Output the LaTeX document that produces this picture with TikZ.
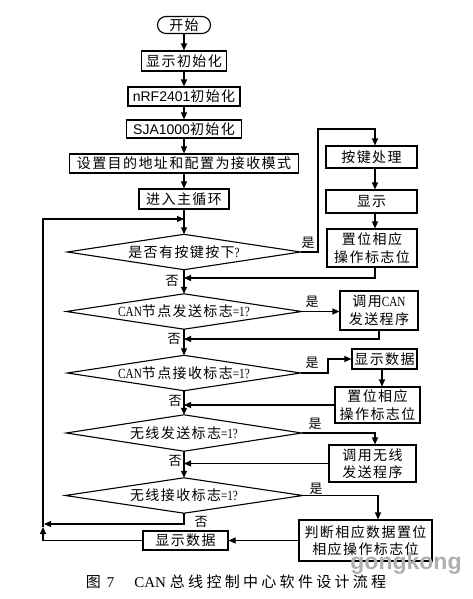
\documentclass[tikz,border=0pt]{standalone}
\usepackage{fontspec}
\setmainfont{Noto Sans CJK SC}
\newfontfamily\cjk[LetterSpace=10]{Noto Sans CJK SC}
\newfontfamily\capf[LetterSpace=22]{Noto Sans CJK SC}
\newfontfamily\ssf{Liberation Sans}
\newfontfamily\ser[FakeStretch=0.8]{Liberation Serif}
\newfontfamily\serc{Liberation Serif}
\usetikzlibrary{arrows.meta}
\definecolor{wmgray}{RGB}{175,175,175}
\newcommand\bt{\cjk\fontsize{14}{17.5}\selectfont}
\tikzset{
  box/.style={draw, line width=1.1pt, inner sep=0pt, align=center, font=\bt},
  dia/.style={inner sep=0pt, font=\bt, append after command={
      \pgfextra{\draw[line width=1.1pt, line join=miter] (\tikzlastnode.north) -- (\tikzlastnode.east) -- (\tikzlastnode.south) -- (\tikzlastnode.west) -- cycle;}}},
  arr/.style={-{Triangle[length=7pt,width=6pt]}, line width=1.1pt},
  lab/.style={inner sep=0pt, font=\cjk\fontsize{13}{13}\selectfont},
}
\begin{document}
\begin{tikzpicture}[x=1pt,y=-1pt]
\fill[white] (0,0) rectangle (473,599);
\path[use as bounding box] (0,0) rectangle (473,599);
% main column
\node[box, rounded corners=8.5pt, minimum width=53pt, minimum height=17pt] (start) at (184,25) {开始};
\node[box, minimum width=85pt, minimum height=20pt] (b1) at (184,61) {显示初始化};
\node[box, minimum width=112pt, minimum height=19pt] (b2) at (184,96.5) {{\ssf nRF2401}初始化};
\node[box, minimum width=115pt, minimum height=18pt] (b3) at (184,129) {{\ssf SJA1000}初始化};
\node[box, minimum width=229pt, minimum height=19pt] (b4) at (184,163.5) {设置目的地址和配置为接收模式};
\node[box, minimum width=90pt, minimum height=20pt] (b5) at (184,199) {进入主循环};
\node[dia, minimum width=233pt, minimum height=35pt] (d1) at (184,252) {是否有按键按下{\ser ?}};
\node[dia, minimum width=235pt, minimum height=35pt] (d2) at (184,311.5) {{\ser CAN}节点发送标志{\ser =1?}};
\node[dia, minimum width=233pt, minimum height=35pt] (d3) at (184,373) {{\ser CAN}节点接收标志{\ser =1?}};
\node[dia, minimum width=235pt, minimum height=36pt] (d4) at (184,433) {无线发送标志{\ser =1?}};
\node[dia, minimum width=237pt, minimum height=35pt] (d5) at (184,495.5) {无线接收标志{\ser =1?}};
\node[box, minimum width=85pt, minimum height=19pt] (disp) at (185.5,540.5) {显示数据};
% right column
\node[box, minimum width=91pt, minimum height=22pt] (r1) at (371.5,157) {按键处理};
\node[box, minimum width=91pt, minimum height=23pt] (r2) at (371.5,201.5) {显示};
\node[box, minimum width=90pt, minimum height=38pt] (r3) at (372,248) {置位相应\\操作标志位};
\node[box, minimum width=78pt, minimum height=39pt] (r4) at (379,310.5) {调用{\ser CAN}\\发送程序};
\node[box, minimum width=65pt, minimum height=20pt] (r5) at (384.5,359) {显示数据};
\node[box, minimum width=85pt, minimum height=36pt] (r6) at (377.5,405) {置位相应\\操作标志位};
\node[box, minimum width=87pt, minimum height=37pt] (r7) at (372.5,463.5) {调用无线\\发送程序};
\node[box, minimum width=133pt, minimum height=41pt] (r8) at (365.5,540.5) {判断相应数据置位\\相应操作标志位};
% helper coordinates
\coordinate (k1) at (318,129);
\coordinate (k2) at (375,129);
\coordinate (m0) at (184,219);
\coordinate (m1) at (184,278);
\coordinate (m2) at (184,339);
\coordinate (k3) at (328,359);
\coordinate (k4) at (382,0);
\coordinate (k5) at (375,0);
\coordinate (k6) at (378,0);
\coordinate (lb) at (44,524);
\coordinate (la) at (43,527);
% main arrows
\draw[arr] (start) -- (b1);
\draw[arr] (b1) -- (b2);
\draw[arr] (b2) -- (b3);
\draw[arr] (b3) -- (b4);
\draw[arr] (b4) -- (b5);
\draw[arr] (b5) -- (d1);
\draw[arr] (d1) -- (d2);
\draw[arr] (d2) -- (d3);
\draw[arr] (d3) -- (d4);
\draw[arr] (d4) -- (d5);
% loop back
\draw[arr] (la) |- (m0);
% key branch
\draw[arr] (d1.east) -| (k1) -- (k2) -- (k2 |- r1.north);
\draw[arr] (k2 |- r1.south) -- (k2 |- r2.north);
\draw[arr] (k2 |- r2.south) -- (k2 |- r3.north);
\draw[arr] (k2 |- r3.south) |- (m1);
% CAN send
\draw[arr] (d2.east) -- (d2.east -| r4.west);
\draw[arr] (r4.south) |- (m2);
% CAN receive
\draw[arr] (d3.east) -| (k3) -- (k3 -| r5.west);
\draw[arr] (k4 |- r5.south) -- (k4 |- r6.north);
\draw[arr] (r6.west) -- (r6.west -| d1);
% wireless send
\draw[arr] (d4.east) -| (k5 |- r7.north);
\draw[arr] (r7.west) -- (r7.west -| d1);
% wireless receive
\draw[arr] (d5.east) -| (k6 |- r8.north);
\draw[arr] (d5.south) |- (lb);
\draw[arr] (r8.west) -- (disp.east);
\draw[arr] (disp.west) -| (la);
% labels
\node[lab] (y1) at (308,243) {是};
\node[lab] (y2) at (312,302) {是};
\node[lab] (y3) at (312,363) {是};
\node[lab] (y4) at (315,424) {是};
\node[lab] (y5) at (316,489) {是};
\node[lab] (n1) at (172,281) {否};
\node[lab] (n2) at (174,339) {否};
\node[lab] (n3) at (175,401) {否};
\node[lab] (n4) at (175,461) {否};
\node[lab] (n5) at (201,522) {否};
% watermark
\node[inner sep=0pt, text=wmgray, font=\ssf\bfseries\fontsize{23}{23}\selectfont] (wm) at (406,564) {gongkong};
% caption
\node[inner sep=0pt] (cap) at (236,582) {\fontsize{15}{15}\selectfont{\capf 图}\hspace{6pt}{\serc 7}\hspace{20pt}{\serc CAN}\hspace{4pt}{\capf 总线控制中心软件设计流程}};
\end{tikzpicture}
\end{document}
